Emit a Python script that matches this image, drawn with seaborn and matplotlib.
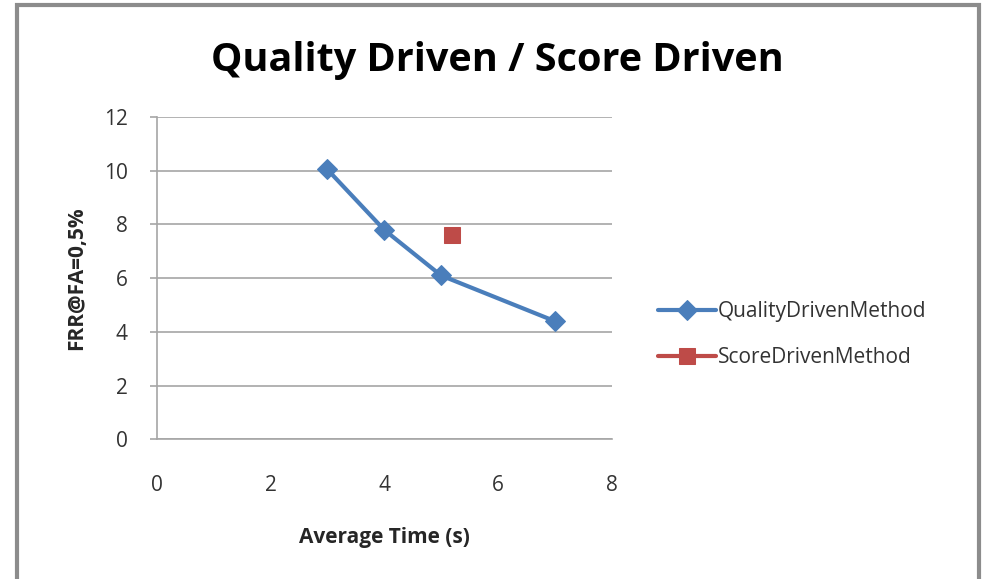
import matplotlib
matplotlib.use("Agg")
import matplotlib.pyplot as plt
import seaborn as sns
import pandas as pd
from matplotlib.patches import Rectangle

# Data
quality_time = [3, 4, 5, 7]
quality_frr = [10.05, 7.8, 6.1, 4.4]
score_time = [5.2]
score_frr = [7.6]

sns.set_style("white")
plt.rcParams['font.family'] = ['Open Sans', 'DejaVu Sans']

df_q = pd.DataFrame({'time': quality_time, 'frr': quality_frr})
df_s = pd.DataFrame({'time': score_time, 'frr': score_frr})

fig = plt.figure(figsize=(9.83, 5.79), dpi=100)
ax = fig.add_axes([0.1594, 0.2413, 0.4629, 0.5565])

sns.lineplot(data=df_q, x='time', y='frr', ax=ax, color='#4A7EBB', linewidth=3,
             marker='D', markersize=10, markeredgecolor='#4A7EBB',
             label='QualityDrivenMethod')
sns.lineplot(data=df_s, x='time', y='frr', ax=ax, color='#BE4B48', linewidth=3,
             marker='s', markersize=12, markeredgecolor='#BE4B48',
             label='ScoreDrivenMethod')

ax.set_xlim(0, 8)
ax.set_ylim(0, 12)
ax.set_xticks([0, 2, 4, 6, 8])
ax.set_yticks([0, 2, 4, 6, 8, 10, 12])
ax.grid(axis='y', color='#a6a6a6', linewidth=1.2)
ax.grid(axis='x', visible=False)
for side in ['top', 'right']:
    ax.spines[side].set_visible(False)
for side in ['left', 'bottom']:
    ax.spines[side].set_color('#a6a6a6')
    ax.spines[side].set_linewidth(1.2)
ax.tick_params(axis='y', length=5, color='#a6a6a6', width=1.2, pad=16,
               labelsize=15, labelcolor='#333333', left=True)
ax.tick_params(axis='x', length=0, pad=26, labelsize=15, labelcolor='#333333')

ax.set_xlabel('Average Time (s)', fontsize=15, fontweight='bold', labelpad=22)
ax.set_ylabel('FRR@FA=0,5%', fontsize=15, fontweight='bold', labelpad=12)
fig.suptitle('Quality Driven / Score Driven', x=0.506, y=0.93, fontsize=28.5,
             fontweight='bold', color='black')

ax.legend(loc='center left', bbox_to_anchor=(1.06, 0.325), frameon=False,
          fontsize=15, labelcolor='#333333', handlelength=2.8,
          handletextpad=0.1, labelspacing=1.2)

fig.patches.append(Rectangle((17 / 983, -0.05), 962 / 983, 1.05 - 5 / 579,
                             transform=fig.transFigure, fill=False,
                             edgecolor='#8c8c8c', linewidth=3))

fig.savefig('out.png', dpi=100)
